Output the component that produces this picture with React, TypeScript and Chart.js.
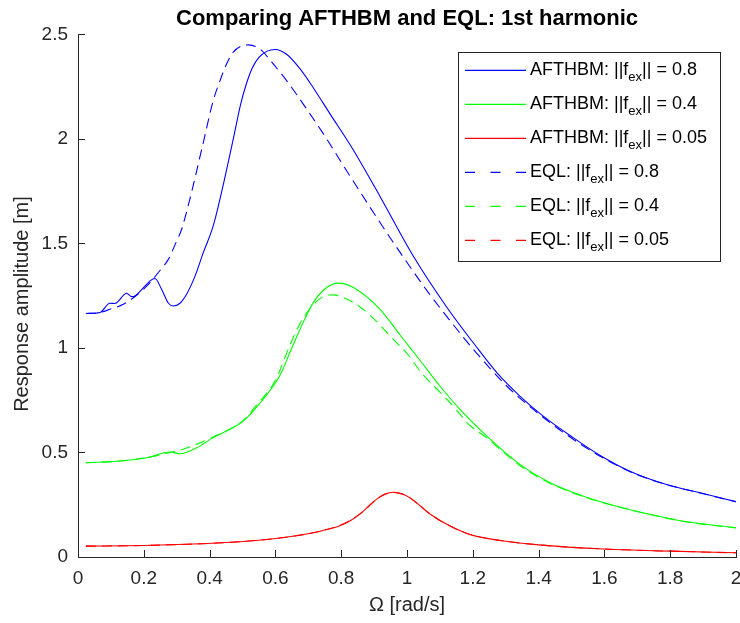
import React, { useEffect, useRef } from "react";
import { Chart, registerables } from "chart.js";

Chart.register(...registerables);

// ---------- data ----------
const TITLE = "Comparing AFTHBM and EQL: 1st harmonic";
const X_LABEL = "Ω [rad/s]";
const Y_LABEL = "Response amplitude [m]   ";
const X_RANGE = [0, 2];
const Y_RANGE = [0, 2.5];
const X_STEP = 0.2;
const Y_STEP = 0.5;

const LABELS = [
  "AFTHBM: ||f_ex|| = 0.8",
  "AFTHBM: ||f_ex|| = 0.4",
  "AFTHBM: ||f_ex|| = 0.05",
  "EQL: ||f_ex|| = 0.8",
  "EQL: ||f_ex|| = 0.4",
  "EQL: ||f_ex|| = 0.05",
];

const aft08X = [0.024, 0.067, 0.097, 0.112, 0.148, 0.163, 0.173, 0.204, 0.219, 0.234, 0.254, 0.275, 0.29, 0.31, 0.33, 0.356, 0.381, 0.411, 0.442, 0.472, 0.495, 0.513, 0.53, 0.55, 0.575, 0.599, 0.634, 0.675, 0.715, 0.766, 0.835, 0.918, 1.019, 1.121, 1.217, 1.273, 1.343, 1.414, 1.505, 1.587, 1.688, 1.789, 1.891, 2.0];
const aft08Y = [1.165, 1.17, 1.214, 1.213, 1.262, 1.246, 1.249, 1.297, 1.321, 1.332, 1.281, 1.214, 1.201, 1.214, 1.257, 1.345, 1.457, 1.584, 1.784, 2.0, 2.17, 2.27, 2.34, 2.39, 2.42, 2.428, 2.405, 2.335, 2.245, 2.12, 1.952, 1.725, 1.44, 1.195, 0.993, 0.882, 0.77, 0.674, 0.571, 0.486, 0.403, 0.347, 0.307, 0.265];

const aft04X = [0.024, 0.128, 0.209, 0.28, 0.31, 0.361, 0.411, 0.462, 0.502, 0.55, 0.614, 0.644, 0.675, 0.715, 0.756, 0.791, 0.837, 0.918, 0.979, 1.04, 1.1, 1.161, 1.242, 1.343, 1.435, 1.536, 1.637, 1.739, 1.84, 2.0];
const aft04Y = [0.451, 0.459, 0.475, 0.502, 0.494, 0.523, 0.571, 0.611, 0.65, 0.73, 0.869, 0.978, 1.09, 1.217, 1.289, 1.31, 1.289, 1.185, 1.062, 0.94, 0.818, 0.706, 0.579, 0.443, 0.355, 0.291, 0.243, 0.204, 0.171, 0.14];

const aft005X = [0.024, 0.2, 0.35, 0.492, 0.594, 0.695, 0.745, 0.796, 0.83, 0.857, 0.885, 0.908, 0.935, 0.958, 0.985, 1.009, 1.04, 1.07, 1.131, 1.191, 1.283, 1.4, 1.6, 1.8, 2.0];
const aft005Y = [0.052, 0.055, 0.062, 0.073, 0.087, 0.11, 0.127, 0.15, 0.176, 0.205, 0.245, 0.277, 0.302, 0.31, 0.302, 0.283, 0.245, 0.206, 0.148, 0.108, 0.079, 0.058, 0.038, 0.028, 0.02];

const eql08X = [0.024, 0.067, 0.097, 0.138, 0.178, 0.219, 0.244, 0.275, 0.298, 0.315, 0.34, 0.35, 0.381, 0.411, 0.432, 0.452, 0.472, 0.495, 0.518, 0.553, 0.589, 0.634, 0.695, 0.756, 0.794, 0.898, 0.979, 1.065, 1.156, 1.202, 1.303, 1.384, 1.485, 1.587, 1.688, 1.789, 1.891, 2.0];
const eql08Y = [1.165, 1.17, 1.185, 1.209, 1.252, 1.313, 1.361, 1.425, 1.505, 1.568, 1.712, 1.776, 1.984, 2.183, 2.28, 2.36, 2.415, 2.443, 2.45, 2.43, 2.367, 2.279, 2.143, 2.0, 1.904, 1.648, 1.457, 1.265, 1.081, 0.993, 0.818, 0.706, 0.585, 0.482, 0.401, 0.346, 0.306, 0.264];

const eql04X = [0.024, 0.128, 0.209, 0.28, 0.319, 0.386, 0.421, 0.462, 0.497, 0.55, 0.6, 0.641, 0.672, 0.712, 0.756, 0.776, 0.807, 0.846, 0.901, 0.951, 1.002, 1.045, 1.1, 1.151, 1.182, 1.242, 1.343, 1.435, 1.536, 1.637, 1.739, 1.84, 2.0];
const eql04Y = [0.451, 0.459, 0.476, 0.5, 0.515, 0.556, 0.582, 0.612, 0.646, 0.74, 0.845, 1.002, 1.109, 1.201, 1.252, 1.254, 1.241, 1.209, 1.137, 1.053, 0.97, 0.879, 0.789, 0.703, 0.643, 0.57, 0.438, 0.352, 0.289, 0.242, 0.203, 0.17, 0.139];

const eql005X = [0.024, 0.2, 0.35, 0.492, 0.594, 0.695, 0.745, 0.796, 0.83, 0.857, 0.885, 0.908, 0.935, 0.958, 0.985, 1.009, 1.04, 1.07, 1.131, 1.191, 1.283, 1.4, 1.6, 1.8, 2.0];
const eql005Y = [0.052, 0.055, 0.062, 0.073, 0.087, 0.11, 0.127, 0.151, 0.177, 0.206, 0.245, 0.277, 0.301, 0.309, 0.301, 0.283, 0.245, 0.206, 0.148, 0.108, 0.079, 0.058, 0.038, 0.028, 0.02];

const COLORS = ["#0000ff", "#00ff00", "#ff0000", "#0000ff", "#00ff00", "#ff0000"];
const SERIES_X = [aft08X, aft04X, aft005X, eql08X, eql04X, eql005X];
const SERIES_Y = [aft08Y, aft04Y, aft005Y, eql08Y, eql04Y, eql005Y];
const DASHED = [false, false, false, true, true, true];

const FONT = "'Liberation Sans', Arial, Helvetica, sans-serif";
const AXIS_COLOR = "#262626";

const inwardTicks = {
  id: "inwardTicks",
  afterDraw(chart: any) {
    const { ctx, chartArea, scales } = chart;
    ctx.save();
    ctx.strokeStyle = AXIS_COLOR;
    ctx.lineWidth = 1;
    const len = 7;
    scales.x.ticks.forEach((_t: any, i: number) => {
      const px = Math.round(scales.x.getPixelForTick(i)) + 0.5;
      ctx.beginPath();
      ctx.moveTo(px, chartArea.bottom);
      ctx.lineTo(px, chartArea.bottom - len);
      ctx.stroke();
    });
    scales.y.ticks.forEach((_t: any, i: number) => {
      const py = Math.round(scales.y.getPixelForTick(i)) + 0.5;
      ctx.beginPath();
      ctx.moveTo(chartArea.left, py);
      ctx.lineTo(chartArea.left + len, py);
      ctx.stroke();
    });
    ctx.restore();
  },
};

const boxLegend = {
  id: "boxLegend",
  afterDraw(chart: any) {
    const { ctx, chartArea } = chart;
    const w = 262;
    const h = 209;
    const right = chartArea.right - 16;
    const top = chartArea.top + 18;
    const left = right - w;
    ctx.save();
    ctx.fillStyle = "#ffffff";
    ctx.fillRect(left, top, w, h);
    ctx.strokeStyle = AXIS_COLOR;
    ctx.lineWidth = 1;
    ctx.strokeRect(Math.round(left) + 0.5, Math.round(top) + 0.5, w, h);
    chart.data.datasets.forEach((ds: any, i: number) => {
      const cy = top + 18 + i * 34;
      ctx.strokeStyle = ds.borderColor;
      ctx.lineWidth = 1.1;
      ctx.setLineDash(ds.borderDash && ds.borderDash.length ? [10, 15.5] : []);
      ctx.beginPath();
      ctx.moveTo(left + 7, cy);
      ctx.lineTo(left + 68, cy);
      ctx.stroke();
      ctx.setLineDash([]);
      const [pre, post] = String(ds.label).split("_ex");
      ctx.fillStyle = "#000000";
      ctx.textBaseline = "middle";
      ctx.textAlign = "left";
      let x = left + 72;
      ctx.font = `18px ${FONT}`;
      ctx.fillText(pre, x, cy);
      x += ctx.measureText(pre).width;
      ctx.font = `13px ${FONT}`;
      ctx.fillText("ex", x, cy + 7);
      x += ctx.measureText("ex").width;
      ctx.font = `18px ${FONT}`;
      ctx.fillText(post, x, cy);
    });
    ctx.restore();
  },
};

export default function App() {
  const canvasRef = useRef<HTMLCanvasElement | null>(null);

  useEffect(() => {
    if (!canvasRef.current) return;
    const datasets = LABELS.map((label, i) => ({
      label,
      data: SERIES_X[i].map((x, j) => ({ x, y: SERIES_Y[i][j] })),
      borderColor: COLORS[i],
      backgroundColor: COLORS[i],
      borderWidth: 1.1,
      borderDash: DASHED[i] ? [10, 6] : [],
      pointRadius: 0,
      fill: false,
      cubicInterpolationMode: "monotone" as const,
    }));

    const chart = new Chart(canvasRef.current, {
      type: "line",
      data: { datasets },
      options: {
        animation: false,
        responsive: true,
        maintainAspectRatio: false,
        layout: { padding: { left: 0, right: 4, top: 0, bottom: 0 } },
        plugins: {
          legend: { display: false },
          tooltip: { enabled: false },
          title: {
            display: true,
            fullSize: false,
            text: TITLE,
            color: "#000000",
            font: { family: FONT, size: 22, weight: "bold" },
            padding: { top: 6, bottom: 2 },
          },
        },
        scales: {
          x: {
            type: "linear",
            min: X_RANGE[0],
            max: X_RANGE[1],
            ticks: {
              stepSize: X_STEP,
              color: AXIS_COLOR,
              font: { family: FONT, size: 19 },
              padding: 10,
              maxRotation: 0,
              callback: (v: any) => String(Number(Number(v).toFixed(1))),
            },
            grid: { display: true, drawOnChartArea: false, drawTicks: false },
            border: { display: true, color: AXIS_COLOR, width: 1 },
            title: {
              display: true,
              text: X_LABEL,
              color: AXIS_COLOR,
              font: { family: FONT, size: 20 },
              padding: { top: 4, bottom: 6 },
            },
            afterFit: (scale: any) => {
              scale.height = 66;
              scale.paddingLeft = 0;
              scale.paddingRight = 0;
            },
          },
          y: {
            type: "linear",
            min: Y_RANGE[0],
            max: Y_RANGE[1],
            ticks: {
              stepSize: Y_STEP,
              color: AXIS_COLOR,
              font: { family: FONT, size: 19 },
              padding: 10,
              callback: (v: any) => String(Number(Number(v).toFixed(1))),
            },
            grid: { display: true, drawOnChartArea: false, drawTicks: false },
            border: { display: true, color: AXIS_COLOR, width: 1 },
            title: {
              display: true,
              text: Y_LABEL,
              color: AXIS_COLOR,
              font: { family: FONT, size: 20 },
              padding: { top: 10, bottom: 0 },
            },
            afterFit: (scale: any) => {
              scale.width = 78;
              scale.paddingTop = 0;
              scale.paddingBottom = 0;
            },
          },
        },
      },
      plugins: [inwardTicks, boxLegend],
    });
    return () => chart.destroy();
  }, []);

  return (
    <div style={{ position: "fixed", left: 0, top: 0, width: 740, height: 623, background: "#ffffff" }}>
      <canvas ref={canvasRef} />
    </div>
  );
}
